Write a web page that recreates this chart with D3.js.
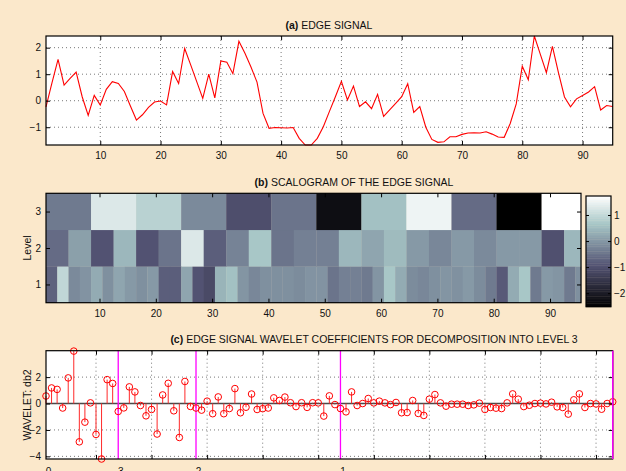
<!DOCTYPE html>
<html>
<head>
<meta charset="utf-8">
<script src="https://cdn.jsdelivr.net/npm/d3@7"></script>
<style>
  html, body { margin: 0; padding: 0; background: #fbe8cb; }
  svg { display: block; font-family: "Liberation Sans", Arial, Helvetica, sans-serif; }
</style>
</head>
<body>
<svg id="fig" width="626" height="471"></svg>
<script>
// ---- data -------------------------------------------------------------
// (a) edge signal, samples 1..95
const signal = [
  -0.23, 0.68, 1.56, 0.59, 0.84, 1.08, 0.15, -0.55, 0.2, -0.16,
  0.43, 0.72, 0.65, 0.35, -0.2, -0.73, -0.53, -0.25, -0.05, -0.01,
  -0.16, 1.1, 0.65, 1.97, 1.35, 0.72, 0.09, 1.0, 0.11, 1.5,
  1.45, 1.02, 2.24, 1.79, 1.27, 0.7, -0.48, -1.04, -1.01, -1.02,
  -1.03, -1.01, -1.42, -1.67, -1.67, -1.42, -0.98, -0.41, 0.15, 0.73,
  0.03, 0.55, -0.22, -0.04, -0.3, 0.24, -0.59, -0.35, -0.1, 0.15,
  0.64, -0.44, -0.22, -1.0, -1.46, -1.57, -1.55, -1.36, -1.36, -1.27,
  -1.22, -1.21, -1.22, -1.17, -1.26, -1.37, -1.38, -0.86, -0.12, 1.3,
  0.79, 2.44, 1.75, 1.06, 2.05, 1.06, 0.14, -0.23, 0.07, 0.2,
  0.33, 0.53, -0.35, -0.18, -0.22
];

// (b) scalogram values, one per block of 2^level samples
const scaleLevel1 = [
  -0.73, 0.97, -0.18, -0.05, 0.28, -0.1, 0.2, 0.03, -0.1, 0.03,
  -0.78, -0.78, 0.2, -0.95, -1.12, 0.4, 0.58, -0.02, -0.22, -0.1,
  -0.1, -0.1, -0.15, -0.05, -0.05, -0.48, -0.31, -0.31, -0.4, -0.02,
  0.67, 0.28, -0.15, -0.22, -0.1, -0.02, -0.08, 0.03, -0.15, -0.4,
  -0.85, 0.28, 0.67, -0.4, 0.03, -0.02, -0.4, -0.1
];
const scaleLevel2 = [
  -0.6, 0.12, -0.95, 0.45, -0.95, -0.48, 1.3, -0.78, -0.27, 0.67,
  -0.48, -0.31, -0.31, 0.45, 0.2, 0.5, 0.03, -0.22, 0.03, -0.18,
  0.03, 0.03, -0.99, 0.45
];
const scaleLevel3 = [
  -0.4, 1.3, 0.88, -0.18, -1.03, -0.48, -2.26, 0.58, 1.52, -0.6,
  -2.52, 1.73
];
const scaleRows = [scaleLevel1, scaleLevel2, scaleLevel3];

// (c) wavelet decomposition vector [cA3 | cD3 | cD2 | cD1]
const coefA3 = [0.57, 1.18, 1.07, -0.34, 1.94, 3.97, -2.9, -1.41, 0.05, -2.34, -4.2, 1.81, 1.52, -0.6];
const coefD3 = [-0.33, 1.26, 0.88, -0.15, -0.93, -0.45, -2.31, 0.65, 1.53, -0.55, -2.57, 1.67, -0.22, -0.34];
const coefD2 = [
  -0.5, 0.18, -0.77, 0.5, -0.77, -0.38, 1.13, -0.7, -0.28, 0.72,
  -0.45, -0.39, -0.34, 0.43, 0.23, 0.49, 0.06, -0.23, 0.06, -0.29,
  0.06, 0.05, -0.95, 0.58, -0.08, -0.38
];
const coefD1 = [
  -0.63, 0.88, -0.15, 0, 0.38, 0.05, 0.18, 0.05, -0.08, 0.08,
  -0.7, -0.68, 0.23, -0.75, -0.9, 0.33, 0.68, 0.05, -0.2, -0.05,
  -0.05, -0.05, -0.15, -0.1, 0.03, -0.45, -0.3, -0.35, -0.38, 0.05,
  0.73, 0.33, -0.23, -0.13, 0, 0.03, -0.03, 0.1, -0.25, -0.3,
  -0.8, 0.28, 0.73, -0.3, 0, -0.03, -0.43, 0, 0.13
];
const coefBlocks = [coefA3, coefD3, coefD2, coefD1];
const blockNames = ["0", "3", "2", "1"];

// ticks
const xTicksA = [10, 20, 30, 40, 50, 60, 70, 80, 90];
const yTicksA = [-1, 0, 1, 2];
const yTicksB = [1, 2, 3];
const cbTicks = [-2, -1, 0, 1];
const xGridC = [10, 20, 30, 40, 50, 60, 70, 80, 90, 100];
const yTicksC = [-4, -2, 0, 2];

// ---- helpers ------------------------------------------------------------
const svg = d3.select("#fig");
const fmt = d => (d < 0 ? "\u2212" + Math.abs(d) : String(d));
const TICK = 4;

// MATLAB "bone" colormap: (7*gray + fliplr(hot)) / 8
function bone(t) {
  t = Math.max(0, Math.min(1, t));
  const hr = Math.min(1, t * 8 / 3);
  const hg = Math.max(0, Math.min(1, (t - 3 / 8) * 8 / 3));
  const hb = Math.max(0, Math.min(1, (t - 3 / 4) * 4));
  const c = v => Math.round(255 * v);
  return `rgb(${c((7 * t + hb) / 8)},${c((7 * t + hg) / 8)},${c((7 * t + hr) / 8)})`;
}

function background(x, y) {
  const [x0, x1] = x.range(), [yb, yt] = y.range();
  svg.append("rect").attr("x", x0).attr("y", yt)
    .attr("width", x1 - x0).attr("height", yb - yt).attr("fill", "#fff");
}

function grid(x, y, xs, ys) {
  const [x0, x1] = x.range(), [yb, yt] = y.range();
  const g = svg.append("g").attr("stroke", "#555").attr("stroke-width", 0.8)
    .attr("stroke-dasharray", "1,3");
  g.selectAll(".gx").data(xs).join("line")
    .attr("x1", d => x(d)).attr("x2", d => x(d)).attr("y1", yt).attr("y2", yb);
  g.selectAll(".gy").data(ys).join("line")
    .attr("x1", x0).attr("x2", x1).attr("y1", d => y(d)).attr("y2", d => y(d));
}

function styleAxis(g) {
  g.select(".domain").remove();
  g.selectAll("line").attr("stroke", "#000");
  g.selectAll("text").attr("font-size", 10).attr("fill", "#111")
    .attr("font-family", "Liberation Sans, Arial, sans-serif");
}

function frameAndTicks(x, y, xs, ys, showX = true) {
  const [x0, x1] = x.range(), [yb, yt] = y.range();
  svg.append("g").attr("transform", `translate(0,${yb})`)
    .call(d3.axisBottom(x).tickValues(xs).tickFormat(showX ? fmt : "")
      .tickSizeInner(-TICK).tickSizeOuter(0).tickPadding(7))
    .call(styleAxis);
  svg.append("g").attr("transform", `translate(0,${yt})`)
    .call(d3.axisTop(x).tickValues(xs).tickFormat("").tickSizeInner(-TICK).tickSizeOuter(0))
    .call(styleAxis);
  svg.append("g").attr("transform", `translate(${x0},0)`)
    .call(d3.axisLeft(y).tickValues(ys).tickFormat(fmt)
      .tickSizeInner(-TICK).tickSizeOuter(0).tickPadding(5))
    .call(styleAxis);
  svg.append("g").attr("transform", `translate(${x1},0)`)
    .call(d3.axisRight(y).tickValues(ys).tickFormat("").tickSizeInner(-TICK).tickSizeOuter(0))
    .call(styleAxis);
  svg.append("rect").attr("x", x0).attr("y", yt)
    .attr("width", x1 - x0).attr("height", yb - yt)
    .attr("fill", "none").attr("stroke", "#000").attr("stroke-width", 1.2);
}

function title(cx, cy, tag, rest) {
  const t = svg.append("text").attr("x", cx).attr("y", cy)
    .attr("text-anchor", "middle").attr("dominant-baseline", "central")
    .attr("font-size", 10.5).attr("fill", "#111");
  t.append("tspan").attr("font-weight", "bold").text(tag);
  t.append("tspan").text(" " + rest);
}

function yLabel(cx, cy, txt) {
  svg.append("text").attr("transform", `translate(${cx},${cy}) rotate(-90)`)
    .attr("text-anchor", "middle").attr("dominant-baseline", "central")
    .attr("font-size", 10.5).attr("fill", "#111").text(txt);
}

// ---- (a) edge signal ------------------------------------------------------
const xA = d3.scaleLinear([1, 95], [46, 612.7]);
const yA = d3.scaleLinear([-1.67, 2.44], [145, 36]);
background(xA, yA);
grid(xA, yA, xTicksA, yTicksA);
svg.append("path").datum(signal)
  .attr("d", d3.line().x((d, i) => xA(i + 1)).y(d => yA(d)))
  .attr("fill", "none").attr("stroke", "#ff0000").attr("stroke-width", 1.1);
frameAndTicks(xA, yA, xTicksA, yTicksA);
title(329, 24.5, "(a)", "EDGE SIGNAL");

// ---- (b) scalogram ------------------------------------------------------------
const N = signal.length;
const xB = d3.scaleLinear([0.5, N + 0.5], [46, 581]);
const yB = d3.scaleLinear([0.5, 3.5], [302.7, 193.3]);
const cMin = d3.min(scaleRows.flat()), cMax = d3.max(scaleRows.flat());
const cNorm = d3.scaleLinear([cMin, cMax], [0, 1]);
const cells = [];
scaleRows.forEach((row, li) => {
  const level = li + 1, w = 2 ** level;
  row.forEach((v, j) => {
    const s = j * w + 1, e = Math.min((j + 1) * w, N);
    cells.push({ level, s, e, v });
  });
});
svg.append("g").selectAll("rect").data(cells).join("rect")
  .attr("x", d => xB(d.s - 0.5))
  .attr("width", d => xB(d.e + 0.5) - xB(d.s - 0.5) + 0.3)
  .attr("y", d => yB(d.level + 0.5))
  .attr("height", d => yB(d.level - 0.5) - yB(d.level + 0.5) + 0.3)
  .attr("fill", d => bone(cNorm(d.v)));
frameAndTicks(xB, yB, xTicksA, yTicksB);
title(354, 181.5, "(b)", "SCALOGRAM OF THE EDGE SIGNAL");
yLabel(27, 248, "Level");

// colour bar
const cb = d3.scaleLinear([cMin, cMax], [306.7, 196]);
const steps = d3.range(64);
const cbX0 = 586, cbX1 = 611;
svg.append("g").selectAll("rect").data(steps).join("rect")
  .attr("x", cbX0).attr("width", cbX1 - cbX0)
  .attr("y", i => cb(cMin + (i + 1) / 64 * (cMax - cMin)))
  .attr("height", i => cb(cMin + i / 64 * (cMax - cMin)) - cb(cMin + (i + 1) / 64 * (cMax - cMin)) + 0.4)
  .attr("fill", i => bone((i + 0.5) / 64));
svg.append("g").attr("transform", `translate(${cbX1},0)`)
  .call(d3.axisRight(cb).tickValues(cbTicks).tickFormat(fmt)
    .tickSizeInner(-3).tickSizeOuter(0).tickPadding(3))
  .call(styleAxis);
svg.append("g").attr("transform", `translate(${cbX0},0)`)
  .call(d3.axisLeft(cb).tickValues(cbTicks).tickFormat("")
    .tickSizeInner(-3).tickSizeOuter(0))
  .call(styleAxis);
svg.append("rect").attr("x", cbX0).attr("y", 196)
  .attr("width", cbX1 - cbX0).attr("height", 306.7 - 196)
  .attr("fill", "none").attr("stroke", "#000").attr("stroke-width", 1.2);

// ---- (c) wavelet coefficients -------------------------------------------------
const coefs = coefBlocks.flat();
const M = coefs.length;
const xC = d3.scaleLinear([1, M], [46, 612.7]);
const yC = d3.scaleLinear([-4.2, 4.0], [459, 350.7]);
background(xC, yC);
grid(xC, yC, xGridC, yTicksC);

// block boundaries (end index of each block)
const bounds = [];
coefBlocks.reduce((acc, b) => { bounds.push(acc + b.length); return acc + b.length; }, 0);
const starts = [1, ...bounds.slice(0, 3)];

svg.append("line").attr("x1", xC(1)).attr("x2", xC(M))
  .attr("y1", yC(0)).attr("y2", yC(0))
  .attr("stroke", "#4a4a4a").attr("stroke-width", 1.6);

svg.append("g").selectAll("line").data(coefs).join("line")
  .attr("x1", (d, i) => xC(i + 1)).attr("x2", (d, i) => xC(i + 1))
  .attr("y1", yC(0)).attr("y2", d => yC(d))
  .attr("stroke", "#ff2a2a").attr("stroke-width", 1);

svg.append("g").selectAll("line").data(bounds).join("line")
  .attr("x1", d => xC(d)).attr("x2", d => xC(d))
  .attr("y1", 350.7).attr("y2", 459)
  .attr("stroke", "#ff00ff").attr("stroke-width", 1.3);

svg.append("g").selectAll("circle").data(coefs).join("circle")
  .attr("cx", (d, i) => xC(i + 1)).attr("cy", d => yC(d)).attr("r", 3.3)
  .attr("fill", "none").attr("stroke", "#ff0000").attr("stroke-width", 1);

frameAndTicks(xC, yC, xGridC, yTicksC, false);
// redraw right block boundary on top of the frame
svg.append("line").attr("x1", xC(M)).attr("x2", xC(M))
  .attr("y1", 350.7).attr("y2", 459)
  .attr("stroke", "#ff00ff").attr("stroke-width", 1.3);

svg.append("g").selectAll("text").data(starts).join("text")
  .attr("x", d => xC(d) + 2.5).attr("y", 474.5)
  .attr("text-anchor", "middle").attr("font-size", 10).attr("fill", "#111")
  .text((d, i) => blockNames[i]);

title(374, 338.5, "(c)", "EDGE SIGNAL WAVELET COEFFICIENTS FOR DECOMPOSITION INTO LEVEL 3");
yLabel(27, 405, "WAVELET: db2");
</script>
</body>
</html>
